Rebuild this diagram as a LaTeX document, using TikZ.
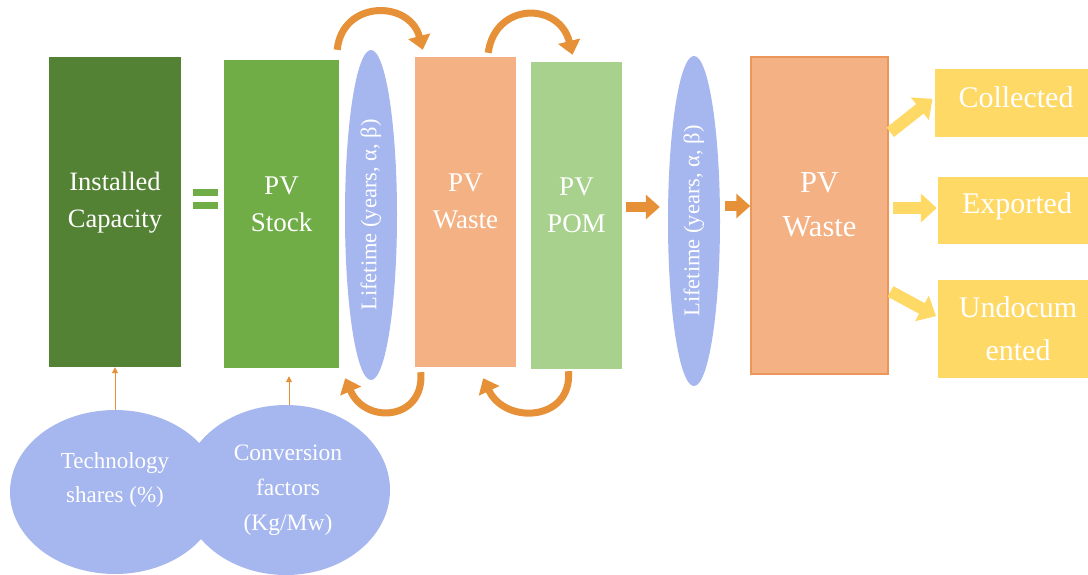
\documentclass[tikz,border=0pt]{standalone}
\usepackage{fontspec}
\setmainfont{Liberation Serif}
\usetikzlibrary{shapes.geometric,arrows.meta}
\definecolor{dgreen}{RGB}{84,130,53}
\definecolor{sgreen}{RGB}{112,173,71}
\definecolor{pgreen}{RGB}{169,209,142}
\definecolor{salmon}{RGB}{244,177,131}
\definecolor{salmonedge}{RGB}{237,150,90}
\definecolor{peri}{RGB}{166,182,238}
\definecolor{arrorange}{RGB}{230,145,56}
\definecolor{yel}{RGB}{255,217,102}
\begin{document}
\begin{tikzpicture}[x=1pt,y=-1pt,
  box/.style={rectangle, inner sep=0pt},
  boxtext/.style={text=white, align=center, inner sep=0pt, font=\fontsize{27}{37}\selectfont},
  lifeell/.style={ellipse, fill=peri, inner sep=0pt, minimum width=52, minimum height=330},
  lifetext/.style={rotate=90, text=white, font=\fontsize{22.5}{25}\selectfont, inner sep=0pt},
  param/.style={ellipse, fill=peri, inner sep=0pt},
  paramtext/.style={text=white, align=center, inner sep=0pt},
  eqbar/.style={rectangle, fill=sgreen, inner sep=0pt, minimum width=25, minimum height=7},
  blockarrow/.style={draw=arrorange, line width=10pt, -{Triangle[width=24pt,length=14pt]}},
  yelarrow/.style={draw=yel, line width=12pt, -{Triangle[width=28pt,length=16pt]}},
  curvearrow/.style={draw=arrorange, line width=7pt, -{Triangle[width=22pt,length=14pt]}},
  thinarrow/.style={draw=arrorange, line width=1pt, -{Triangle[width=6pt,length=6pt]}},
  outbox/.style={rectangle, fill=yel, inner sep=0pt},
  outtext/.style={text=white, align=center, inner sep=0pt, font=\fontsize{30}{43}\selectfont}
]
\useasboundingbox (0,0) rectangle (1088,574);

% parameter ellipses
\node[param, minimum width=210, minimum height=164] (tech) at (115,492) {};
\node[param, minimum width=208, minimum height=170] (conv) at (286,490) {};
\node[paramtext, font=\fontsize{23}{34}\selectfont] (techt) at (115,480) {Technology\\shares (\%)};
\node[paramtext, font=\fontsize{23.5}{35}\selectfont] (convt) at (288,490) {Conversion\\factors\\(Kg/Mw)};

% main boxes
\node[box, fill=dgreen, minimum width=132, minimum height=310] (inst) at (115,212) {};
\node[boxtext, font=\fontsize{26.5}{37}\selectfont] (instt) at (115,203) {Installed\\Capacity};
\node[eqbar] (eq1) at (205.5,192.5) {};
\node[eqbar] (eq2) at (205.5,205.5) {};
\node[box, fill=sgreen, minimum width=115, minimum height=308] (stock) at (281.5,214) {};
\node[boxtext] (stockt) at (281.5,204) {PV\\Stock};
\node[lifeell] (ell1) at (371,215) {};
\node[lifetext] (ell1t) at (ell1) {Lifetime (years, α, β)};
\node[box, fill=salmon, minimum width=101, minimum height=310] (waste1) at (465.5,212) {};
\node[boxtext] (waste1t) at (465.5,201) {PV\\Waste};
\node[box, fill=pgreen, minimum width=91, minimum height=307] (pom) at (576.5,215.5) {};
\node[boxtext] (pomt) at (576.5,205) {PV\\POM};
\node[lifeell] (ell2) at (694,221) {};
\node[lifetext] (ell2t) at (ell2) {Lifetime (years, α, β)};
\node[box, fill=salmon, draw=salmonedge, line width=1.5pt, minimum width=137, minimum height=317] (waste2) at (819.5,215.5) {};
\node[boxtext, font=\fontsize{30.5}{44}\selectfont] (waste2t) at (819.5,205) {PV\\Waste};

% outcome boxes
\node[outbox, minimum width=160, minimum height=68] (coll) at (1015,103) {};
\node[outtext] (collt) at (1016,97) {Collected};
\node[outbox, minimum width=157, minimum height=67] (expo) at (1016.5,210.5) {};
\node[outtext] (expot) at (1017,206) {Exported};
\node[outbox, minimum width=157, minimum height=98] (undoc) at (1016.5,329) {};
\node[outtext] (undoct) at (1018,329) {Undocum\\ented};

% thin arrows
\draw[thinarrow] (tech.north) -- (inst.south);
\draw[thinarrow, shorten >=8pt] ([xshift=3pt]conv.north) -- ([xshift=3pt]conv.north |- stock.south);

% block arrows
\draw[blockarrow, shorten <=4pt, shorten >=8pt] ([yshift=8.5pt]pom.east) -- ([yshift=8.5pt]pom.east -| ell2.west);
\draw[blockarrow, shorten <=5pt] ([yshift=15pt]ell2.east) -- ([yshift=15pt]ell2.east -| waste2.west);

% yellow arrows
\draw[yelarrow, shorten <=2pt, shorten >=3pt] ([yshift=82pt]waste2.east) -- ([yshift=6pt]coll.west);
\draw[yelarrow, shorten <=4pt, shorten >=1pt] ([yshift=7.5pt]waste2.east) -- ([yshift=7.5pt]waste2.east -| expo.west);
\draw[yelarrow, shorten <=2pt, shorten >=2pt] ([yshift=-75pt]waste2.east) -- ([yshift=12pt]undoc.west);

% curved arrows
\coordinate (t1s) at ([xshift=-2pt,yshift=10pt]stock.north east);
\coordinate (t1e) at ([xshift=8pt,yshift=7pt]waste1.north west);
\draw[curvearrow] (t1s) .. controls +(5,-50) and +(-13,-50) .. (t1e);
\coordinate (t2s) at ([xshift=-28pt,yshift=4pt]waste1.north east);
\coordinate (t2e) at ([xshift=-4pt,yshift=7pt]pom.north);
\draw[curvearrow] (t2s) .. controls +(7,-51) and +(-13,-53) .. (t2e);
\coordinate (b1s) at ([xshift=6pt,yshift=-5pt]waste1.south west);
\coordinate (b1e) at ([xshift=6pt,yshift=-10pt]stock.south east);
\draw[curvearrow] (b1s) .. controls +(4,48) and +(20,47) .. (b1e);
\coordinate (b2s) at ([xshift=-8pt,yshift=-2pt]pom.south);
\coordinate (b2e) at ([xshift=-33pt,yshift=-11pt]waste1.south east);
\draw[curvearrow] (b2s) .. controls +(4,50) and +(22,47) .. (b2e);
\end{tikzpicture}
\end{document}
